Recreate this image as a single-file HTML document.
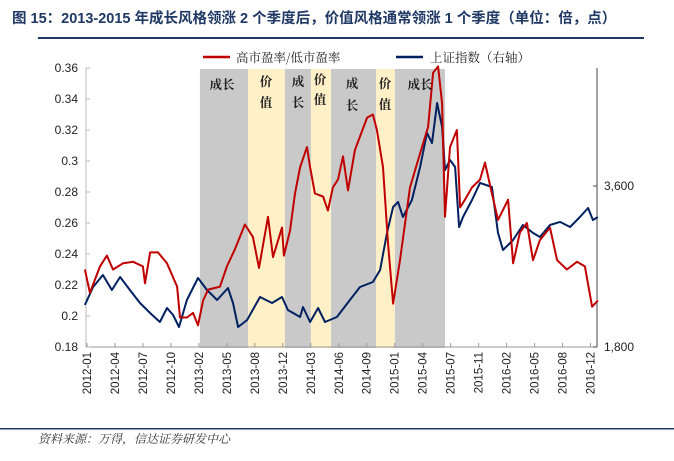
<!DOCTYPE html>
<html><head><meta charset="utf-8"><style>
body{margin:0;background:#fff;}
svg text{font-family:"Liberation Sans","Noto Sans CJK SC",sans-serif;}
.cn{font-family:"Noto Serif CJK SC","Noto Sans CJK SC",serif;}
</style></head><body>
<svg id="c" width="674" height="456" viewBox="0 0 674 456" xmlns="http://www.w3.org/2000/svg">
<text x="12" y="23" font-size="14.5" font-weight="bold" fill="#1F3864">图 15：2013-2015 年成长风格领涨 2 个季度后，价值风格通常领涨 1 个季度（单位：倍，点）</text>
<rect x="38" y="37" width="606" height="2" fill="#1F3864"/>
<rect x="0" y="428" width="674" height="1.5" fill="#1F3864"/>
<text x="38" y="443" font-size="12" font-style="italic" fill="#333" class="cn">资料来源：万得，信达证券研发中心</text>
<g>
<line x1="203" y1="57" x2="230" y2="57" stroke="#C00000" stroke-width="2.5"/>
<text x="236" y="62" font-size="12.5" fill="#222" class="cn">高市盈率/低市盈率</text>
<line x1="396" y1="57" x2="423" y2="57" stroke="#002060" stroke-width="2.5"/>
<text x="430" y="62" font-size="12.5" fill="#222" class="cn">上证指数（右轴）</text>
</g>
<g id="shades"></g><g id="axes"></g><g id="lines"></g><g id="labels"></g>
</svg>
<script>
// x positions as fractional tick index (0 = 2012-01 ... 19 = 2016-12)
const tickLabels = ["2012-01","2012-04","2012-07","2012-10","2013-02","2013-05","2013-08","2013-12","2014-03","2014-06","2014-09","2015-01","2015-04","2015-07","2015-11","2016-02","2016-05","2016-08","2016-12"];
const leftTicks = [0.18,0.2,0.22,0.24,0.26,0.28,0.3,0.32,0.34,0.36];
const rightTicks = [1800,3600];
const redT = [-0.08,0.11,0.49,0.75,0.98,1.36,1.74,2.11,2.19,2.38,2.68,3.02,3.40,3.51,3.77,4.00,4.19,4.38,4.57,5.02,5.28,5.58,5.96,6.26,6.49,6.83,7.02,7.36,7.43,7.66,7.85,8.04,8.30,8.42,8.60,8.91,9.09,9.28,9.47,9.66,9.85,10.11,10.57,10.79,10.94,11.17,11.36,11.55,11.81,12.19,12.57,12.87,13.06,13.25,13.40,13.51,13.70,13.96,14.08,14.26,14.53,14.83,15.02,15.28,15.51,15.89,16.08,16.34,16.60,16.83,17.09,17.47,17.74,18.11,18.49,18.79,19.06,19.28];
const redV = [0.230,0.215,0.232,0.239,0.230,0.234,0.235,0.232,0.221,0.241,0.241,0.234,0.219,0.199,0.199,0.202,0.194,0.210,0.217,0.219,0.232,0.243,0.259,0.251,0.231,0.264,0.238,0.257,0.239,0.255,0.279,0.296,0.309,0.296,0.279,0.277,0.268,0.283,0.288,0.303,0.281,0.307,0.328,0.330,0.320,0.296,0.247,0.208,0.236,0.283,0.305,0.322,0.357,0.361,0.337,0.264,0.309,0.320,0.270,0.275,0.283,0.288,0.299,0.279,0.262,0.275,0.234,0.254,0.260,0.236,0.249,0.257,0.236,0.230,0.235,0.232,0.206,0.210];
const blueT = [-0.08,0.23,0.60,0.94,1.25,1.62,2.00,2.38,2.75,3.02,3.25,3.47,3.77,4.19,4.53,4.91,5.32,5.51,5.70,6.04,6.53,6.98,7.36,7.58,8.04,8.15,8.42,8.72,8.98,9.43,9.92,10.30,10.79,11.06,11.32,11.55,11.74,11.92,12.26,12.57,12.83,13.02,13.21,13.40,13.51,13.70,13.89,14.04,14.19,14.53,14.83,15.28,15.51,15.70,16.08,16.45,16.83,17.09,17.47,17.85,18.23,18.60,18.91,19.09,19.28];
const blueV = [2270,2471,2605,2437,2583,2437,2292,2180,2080,2236,2158,2024,2325,2571,2437,2325,2460,2292,2024,2102,2359,2292,2359,2214,2135,2247,2080,2236,2080,2135,2325,2471,2527,2661,3075,3365,3421,3253,3443,3812,4193,4081,4528,4260,3779,3891,3812,3142,3253,3443,3634,3589,3075,2884,2996,3164,3075,3030,3164,3198,3142,3253,3354,3220,3253];
const regionStart = [4.26,6.08,7.47,8.45,9.21,10.91,11.62];
const regionEnd = [6.08,7.47,8.45,9.21,10.91,11.62,13.51];
const regionType = ["growth","value","growth","value","growth","value","growth"];

const NS="http://www.w3.org/2000/svg";
const X0=87, DX=26.5, Y0=347, Y1=68;
const x = t => X0 + t*DX;
const yL = v => Y0 - (v-0.18)/(0.36-0.18)*(Y0-Y1);
const yR = v => Y0 - (v-1800)/(4919-1800)*(Y0-Y1);
function mk(tag, attrs, parent){const e=document.createElementNS(NS,tag);for(const k in attrs)e.setAttribute(k,attrs[k]);parent.appendChild(e);return e;}
const gS=document.getElementById('shades'), gA=document.getElementById('axes'), gL=document.getElementById('lines'), gT=document.getElementById('labels');

for(let i=0;i<regionStart.length;i++){
  const r=mk('rect',{x:x(regionStart[i]),y:69,width:x(regionEnd[i])-x(regionStart[i]),height:279,fill:regionType[i]==='growth'?'#C9C9C9':'#FFF0C8'},gS);
  
  
}
// period labels
const lbl=[[222,89,"成长",0],[266,86,"价",1],[266,107,"值",1],[298,86,"成",0],[298,107,"长",0],[320,84,"价",1],[320,104,"值",1],[352,88,"成",0],[352,110,"长",0],[385,88,"价",1],[385,109,"值",1],[420,89,"成长",0]];
lbl.forEach(l=>{const t=mk('text',{x:l[0],y:l[1],'font-size':12.5,'font-weight':'bold','text-anchor':'middle',fill:'#222',class:'cn'},gT);t.textContent=l[2];
  
  });

// axes
let a=mk('line',{x1:86,y1:Y1,x2:86,y2:Y0,stroke:'#BBB','stroke-width':1},gA);


a=mk('line',{x1:86,y1:Y0,x2:597,y2:Y0,stroke:'#999','stroke-width':1},gA);


a=mk('line',{x1:597,y1:Y1,x2:597,y2:Y0,stroke:'#444','stroke-width':1},gA);


leftTicks.forEach(v=>{
  mk('line',{x1:86,x2:90,y1:yL(v),y2:yL(v),stroke:'#BBB'},gA);
  const t=mk('text',{x:78,y:yL(v)+4,'font-size':12,'text-anchor':'end',fill:'#222'},gA);
  t.textContent=v.toFixed(2).replace(/0$/,'').replace(/\.$/,'');
  if(v===0.2||v===0.3) t.textContent=String(v);
  
  
});
rightTicks.forEach(v=>{
  mk('line',{x1:593,x2:597,y1:yR(v),y2:yR(v),stroke:'#444'},gA);
  const t=mk('text',{x:604,y:yR(v)+4,'font-size':12,fill:'#222'},gA);
  t.textContent=v.toLocaleString('en-US');
  
  
});
tickLabels.forEach((s,i)=>{
  const xx=x(i*19/18);
  mk('line',{x1:xx,x2:xx,y1:Y0,y2:Y0-4,stroke:'#999'},gA);
  const t=mk('text',{x:0,y:0,'font-size':11.5,'text-anchor':'end',fill:'#222',transform:`translate(${xx+4},352) rotate(-90)`},gA);
  t.textContent=s;
  
  
});
// lines
function path(T,V,yf){return T.map((t,i)=>(i?'L':'M')+x(t).toFixed(1)+','+yf(V[i]).toFixed(1)).join('');}
let p=mk('path',{d:path(blueT,blueV,yR),fill:'none',stroke:'#002060','stroke-width':2,'stroke-linejoin':'round'},gL);


p=mk('path',{d:path(redT,redV,yL),fill:'none',stroke:'#C00000','stroke-width':2,'stroke-linejoin':'round'},gL);


</script>
</body></html>
